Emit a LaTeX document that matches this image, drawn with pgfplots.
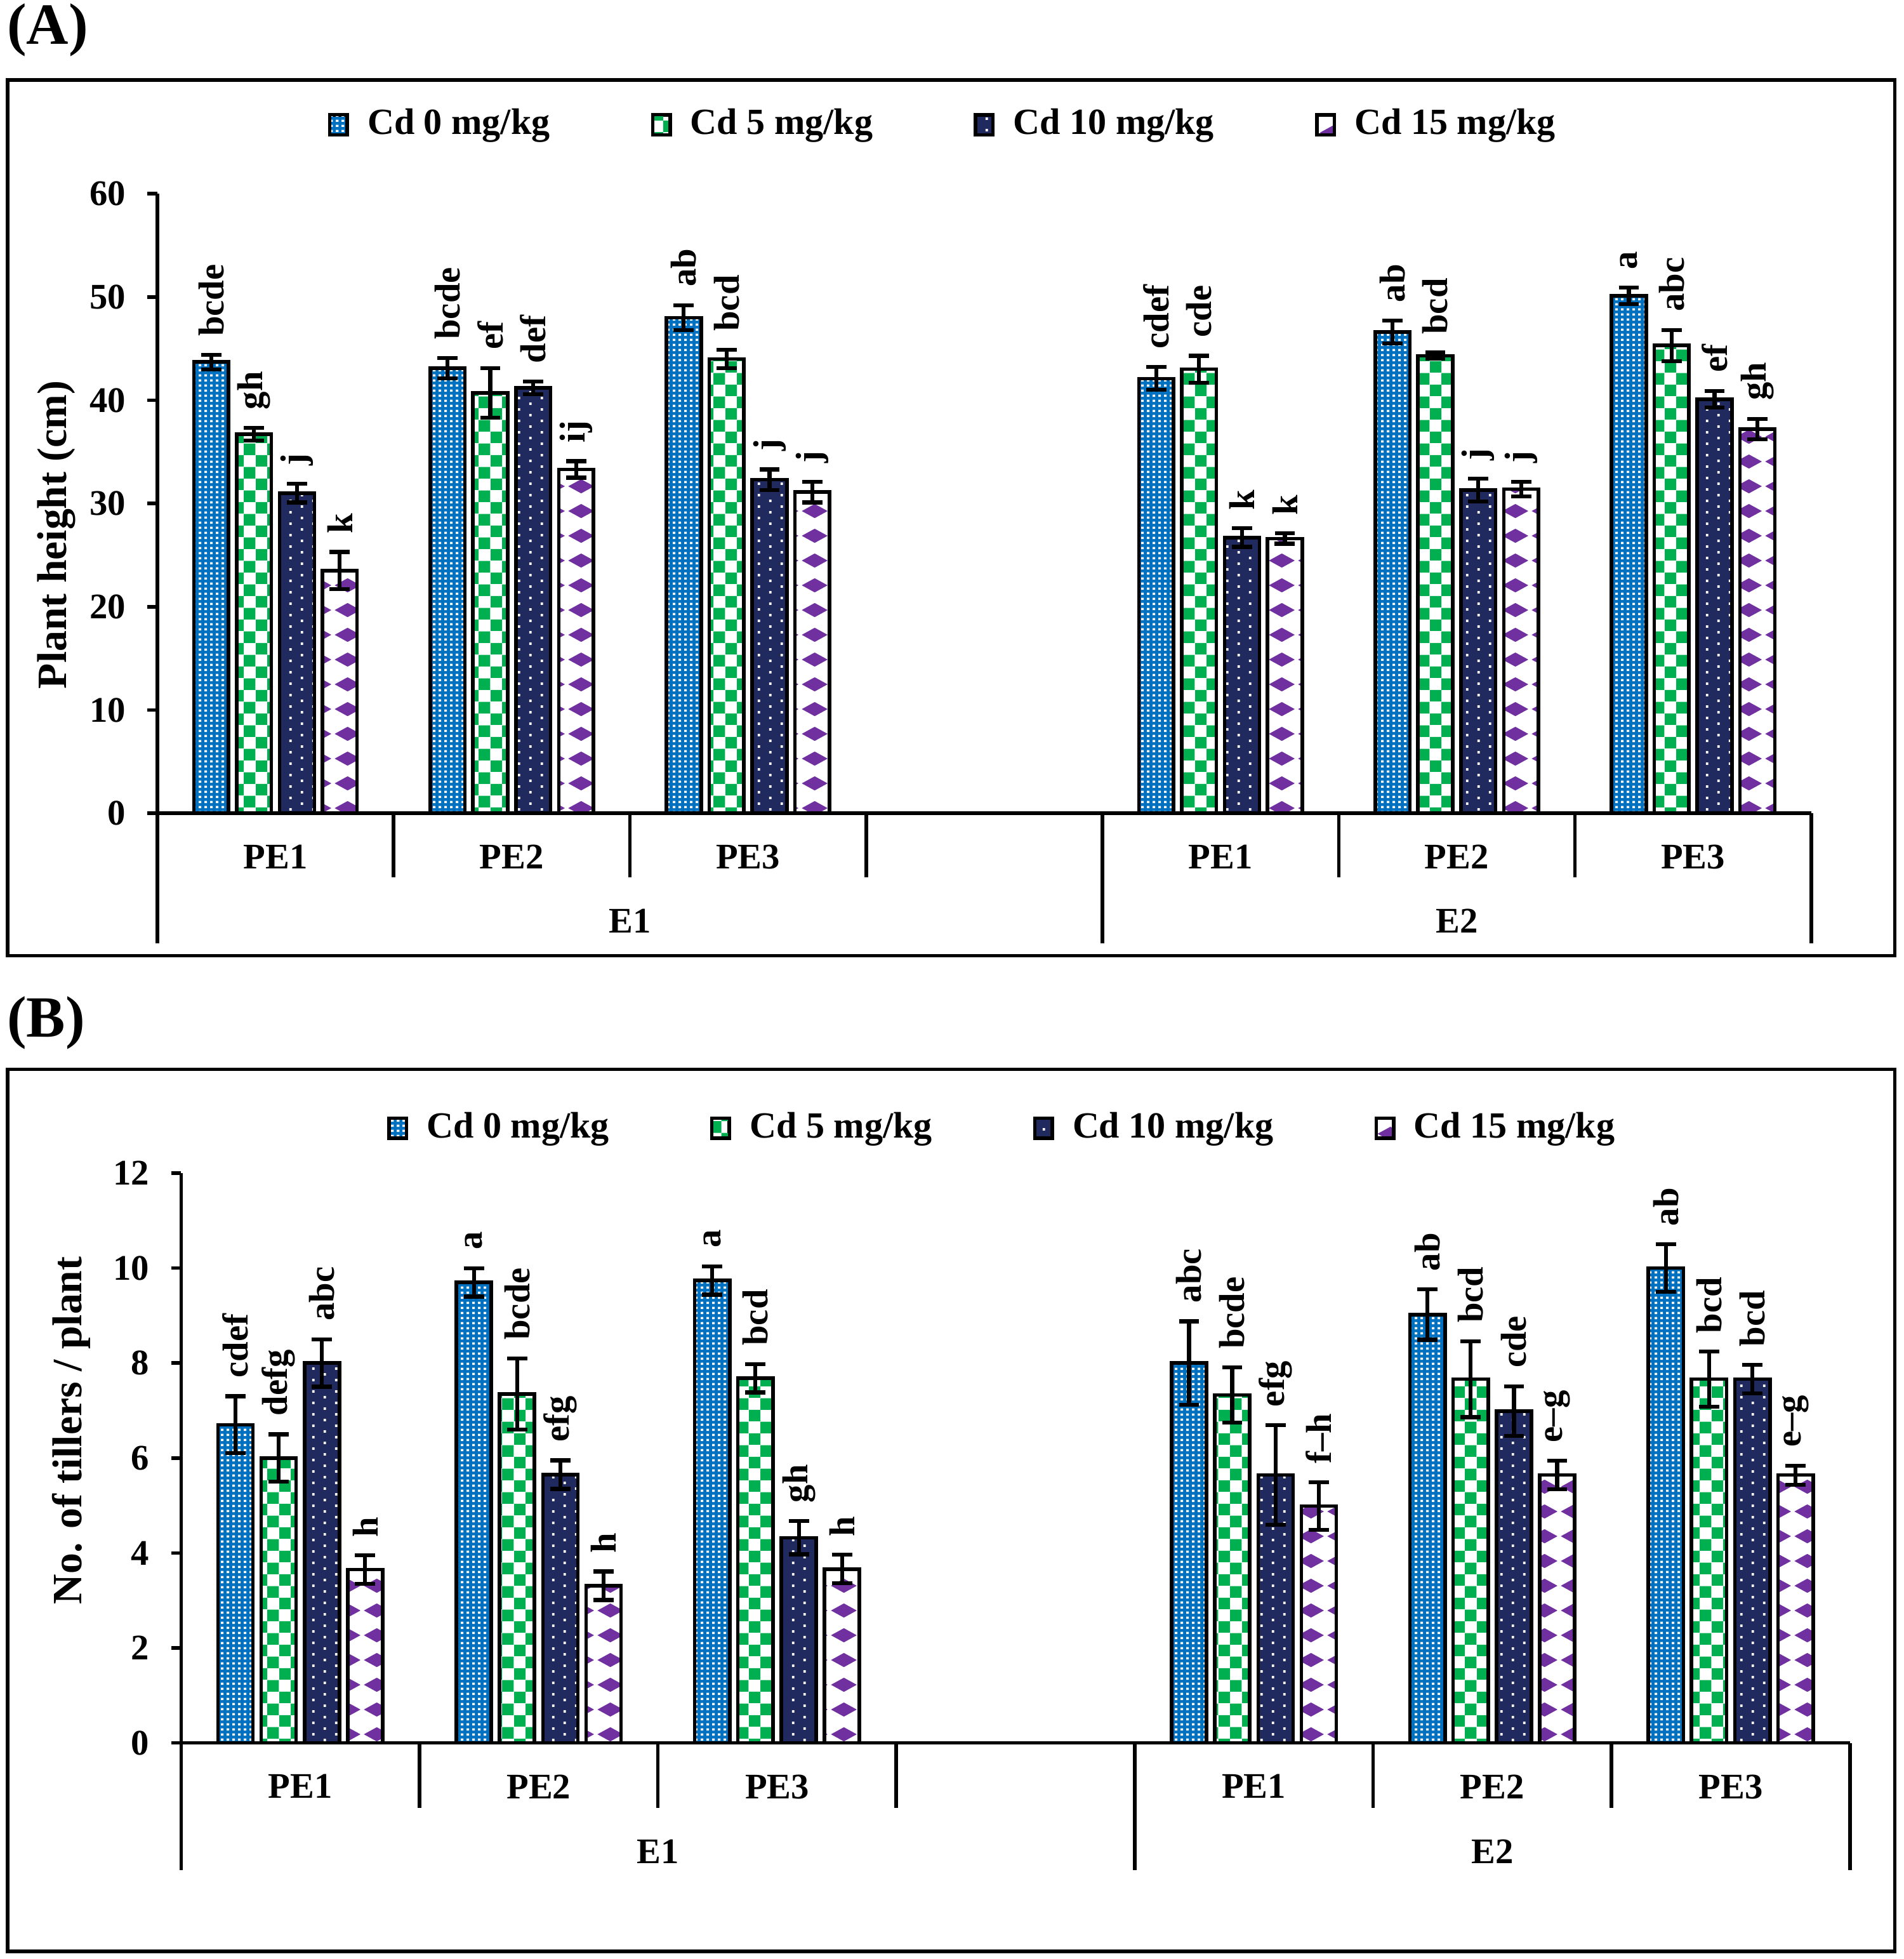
\documentclass[border=0pt]{standalone}
\usepackage{fontspec}
\setmainfont{Liberation Serif}
\usepackage{pgfplots}
\usepackage{pgfplotstable}
\pgfplotsset{compat=1.18}
\usetikzlibrary{patterns}

\definecolor{cdblue}{RGB}{0,112,192}
\definecolor{cdgreen}{RGB}{0,176,80}
\definecolor{cdnavy}{RGB}{32,42,94}
\definecolor{cdpurple}{RGB}{112,48,160}

% bar fills
\pgfdeclarepatternformonly{finedots}{\pgfqpoint{0pt}{0pt}}{\pgfqpoint{1.25pt}{1.1pt}}{\pgfqpoint{1.25pt}{1.1pt}}{%
  \pgfpathrectangle{\pgfqpoint{0.33pt}{0.3pt}}{\pgfqpoint{0.6pt}{0.5pt}}\pgfusepath{fill}}
\pgfdeclarepatternformonly{sparsedots}{\pgfqpoint{0pt}{0pt}}{\pgfqpoint{5.2pt}{2.6pt}}{\pgfqpoint{5.2pt}{2.6pt}}{%
  \pgfpathrectangle{\pgfqpoint{1pt}{0.3pt}}{\pgfqpoint{0.55pt}{0.55pt}}%
  \pgfpathrectangle{\pgfqpoint{3.6pt}{1.6pt}}{\pgfqpoint{0.55pt}{0.55pt}}\pgfusepath{fill}}
\pgfdeclarepatternformonly{checks}{\pgfqpoint{0pt}{0pt}}{\pgfqpoint{5.3pt}{5.3pt}}{\pgfqpoint{5.3pt}{5.3pt}}{%
  \pgfpathrectangle{\pgfqpoint{0pt}{0pt}}{\pgfqpoint{2.65pt}{2.65pt}}%
  \pgfpathrectangle{\pgfqpoint{2.65pt}{2.65pt}}{\pgfqpoint{2.65pt}{2.65pt}}\pgfusepath{fill}}
\newcommand\pdiam[2]{%
  \pgfpathmoveto{\pgfpointadd{\pgfqpoint{#1}{#2}}{\pgfqpoint{-2.9pt}{0pt}}}%
  \pgfpathlineto{\pgfpointadd{\pgfqpoint{#1}{#2}}{\pgfqpoint{0pt}{1.6pt}}}%
  \pgfpathlineto{\pgfpointadd{\pgfqpoint{#1}{#2}}{\pgfqpoint{2.9pt}{0pt}}}%
  \pgfpathlineto{\pgfpointadd{\pgfqpoint{#1}{#2}}{\pgfqpoint{0pt}{-1.6pt}}}%
  \pgfpathclose}
\pgfdeclarepatternformonly{diamonds}{\pgfqpoint{0pt}{0pt}}{\pgfqpoint{6.6pt}{5.7pt}}{\pgfqpoint{6.6pt}{5.7pt}}{%
  \pdiam{0pt}{0pt}\pdiam{6.6pt}{0pt}\pdiam{0pt}{5.7pt}\pdiam{6.6pt}{5.7pt}\pgfusepath{fill}}

\tikzset{
  s0/.style={preaction={fill=cdblue}, pattern=finedots, pattern color=white, draw=black},
  s5/.style={preaction={fill=white}, pattern=checks, pattern color=cdgreen, draw=black},
  s10/.style={preaction={fill=cdnavy}, pattern=sparsedots, pattern color=white, draw=black},
  s15/.style={preaction={fill=white}, pattern=diamonds, pattern color=cdpurple, draw=black},
}

\newcommand\tickfont{\fontsize{8.2}{9}\selectfont\bfseries}

\pgfplotsset{
  cdpanel/.style={
    scale only axis, anchor=south west, clip=false,
    xmin=0, xmax=7, ymin=0,
    axis x line*=bottom, axis y line*=left,
    axis line style={-, line width=0.8pt, black},
    xtick={0.5,1.5,2.5,4.5,5.5,6.5},
    xticklabels={PE1,PE2,PE3,PE1,PE2,PE3},
    xtick style={draw=none},
    ytick style={line width=0.8pt, black},
    tick align=outside, major tick length=0.08cm,
    tick label style={font=\tickfont},
    /pgf/number format/assume math mode=true,
    yticklabel style={xshift=-0.05cm},
    xticklabel style={yshift=-0.05cm},
    legend columns=4,
    legend cell align=left,
    legend style={draw=none, fill=none, anchor=center,
      font=\fontsize{8.4}{10}\selectfont\bfseries,
      /tikz/every even column/.append style={column sep=0.74cm},
      /tikz/every odd column/.append style={column sep=0.08cm}},
  },
  leg/.style={legend image code/.code={\draw[#1, line width=0.7pt] (0cm,-0.08cm) rectangle (0.14cm,0.08cm);}},
  cdbar/.style={ybar, bar width=0.147, line width=0.8pt},
  cderr/.style={draw=none, mark=none, forget plot,
    error bars/.cd, y dir=both, y explicit, error mark=-,
    error bar style={draw=black, line width=0.9pt},
    error mark options={draw=black, line width=0.9pt, mark size=2.3pt, rotate=90}},
  cdlab/.style={draw=none, mark=none, forget plot, nodes near coords,
    point meta=explicit symbolic,
    every node near coord/.append style={black, font=\tickfont,
      rotate=90, anchor=west, inner xsep=4pt, inner ysep=0.5pt}},
}

\newcommand\bars[3]{\addplot[cdbar, #2, leg=#2, bar shift=#3] table[x=x, y=y] {#1};}
\newcommand\errs[2]{\addplot[cderr] table[x expr=\thisrow{x}#2, y=y, y error=e] {#1};}
\newcommand\labs[2]{\addplot[cdlab] table[x expr=\thisrow{x}#2, y expr=\thisrow{y}+\thisrow{e}, meta=lab] {#1};}

% (A) plant height, cm
\pgfplotstableread{
x   y    e   lab
0.5 43.7 0.7 bcde
1.5 43.1 1.0 bcde
2.5 48.0 1.2 ab
4.5 42.1 1.1 cdef
5.5 46.6 1.1 ab
6.5 50.1 0.8 a
}\Azero
\pgfplotstableread{
x   y    e   lab
0.5 36.7 0.6 gh
1.5 40.7 2.4 ef
2.5 44.0 0.9 bcd
4.5 43.0 1.3 cde
5.5 44.3 0.3 bcd
6.5 45.3 1.5 abc
}\Afive
\pgfplotstableread{
x   y    e   lab
0.5 31.0 0.9 j
1.5 41.2 0.6 def
2.5 32.3 1.0 j
4.5 26.7 0.9 k
5.5 31.3 1.1 j
6.5 40.1 0.8 ef
}\Aten
\pgfplotstableread{
x   y    e   lab
0.5 23.5 1.8 k
1.5 33.3 0.8 ij
2.5 31.1 1.0 j
4.5 26.6 0.5 k
5.5 31.4 0.7 j
6.5 37.2 1.0 gh
}\Afifteen

% (B) tillers per plant
\pgfplotstableread{
x   y    e    lab
0.5 6.70 0.60 cdef
1.5 9.70 0.30 a
2.5 9.74 0.30 a
4.5 8.00 0.88 abc
5.5 9.02 0.53 ab
6.5 10.00 0.50 ab
}\Bzero
\pgfplotstableread{
x   y    e    lab
0.5 6.00 0.50 defg
1.5 7.35 0.75 bcde
2.5 7.68 0.30 bcd
4.5 7.33 0.58 bcde
5.5 7.66 0.80 bcd
6.5 7.66 0.58 bcd
}\Bfive
\pgfplotstableread{
x   y    e    lab
0.5 8.00 0.50 abc
1.5 5.65 0.30 efg
2.5 4.32 0.35 gh
4.5 5.64 1.05 efg
5.5 6.99 0.52 cde
6.5 7.66 0.30 bcd
}\Bten
\pgfplotstableread{
x   y    e    lab
0.5 3.65 0.30 h
1.5 3.31 0.30 h
2.5 3.66 0.30 h
4.5 4.99 0.50 f--h
5.5 5.64 0.30 e--g
6.5 5.64 0.20 e--g
}\Bfifteen

\begin{document}
\begin{tikzpicture}
\useasboundingbox (0,0) rectangle (15.24,15.68);

% ---- panel A ----
\begin{axis}[cdpanel, at={(1.26cm,9.17cm)}, width=13.24cm, height=4.96cm,
  ymax=60, ytick={0,10,...,60},
  legend style={at={(0.477,1.111)}}]
\bars{\Azero}{s0}{-0.272}
\addlegendentry{Cd 0 mg/kg}
\bars{\Afive}{s5}{-0.091}
\addlegendentry{Cd 5 mg/kg}
\bars{\Aten}{s10}{0.091}
\addlegendentry{Cd 10 mg/kg}
\bars{\Afifteen}{s15}{0.272}
\addlegendentry{Cd 15 mg/kg}
\errs{\Azero}{-0.272}
\errs{\Afive}{-0.091}
\errs{\Aten}{+0.091}
\errs{\Afifteen}{+0.272}
\labs{\Azero}{-0.272}
\labs{\Afive}{-0.091}
\labs{\Aten}{+0.091}
\labs{\Afifteen}{+0.272}
\draw[line width=0.8pt] (axis cs:1,0) -- ++(0,-0.51cm);
\draw[line width=0.8pt] (axis cs:2,0) -- ++(0,-0.51cm);
\draw[line width=0.8pt] (axis cs:3,0) -- ++(0,-0.51cm);
\draw[line width=0.8pt] (axis cs:5,0) -- ++(0,-0.51cm);
\draw[line width=0.8pt] (axis cs:6,0) -- ++(0,-0.51cm);
\draw[line width=0.8pt] (axis cs:0,0) -- ++(0,-1.04cm);
\draw[line width=0.8pt] (axis cs:4,0) -- ++(0,-1.04cm);
\draw[line width=0.8pt] (axis cs:7,0) -- ++(0,-1.04cm);
\node[font=\tickfont, yshift=-0.86cm] at (axis cs:2,0) {E1};
\node[font=\tickfont, yshift=-0.86cm] at (axis cs:5.5,0) {E2};
\end{axis}

% ---- panel B ----
\begin{axis}[cdpanel, at={(1.45cm,1.73cm)}, width=13.36cm, height=4.56cm,
  ymax=12, ytick={0,2,...,12},
  legend style={at={(0.494,1.079)}}]
\bars{\Bzero}{s0}{-0.272}
\addlegendentry{Cd 0 mg/kg}
\bars{\Bfive}{s5}{-0.091}
\addlegendentry{Cd 5 mg/kg}
\bars{\Bten}{s10}{0.091}
\addlegendentry{Cd 10 mg/kg}
\bars{\Bfifteen}{s15}{0.272}
\addlegendentry{Cd 15 mg/kg}
\errs{\Bzero}{-0.272}
\errs{\Bfive}{-0.091}
\errs{\Bten}{+0.091}
\errs{\Bfifteen}{+0.272}
\labs{\Bzero}{-0.272}
\labs{\Bfive}{-0.091}
\labs{\Bten}{+0.091}
\labs{\Bfifteen}{+0.272}
\draw[line width=0.8pt] (axis cs:1,0) -- ++(0,-0.52cm);
\draw[line width=0.8pt] (axis cs:2,0) -- ++(0,-0.52cm);
\draw[line width=0.8pt] (axis cs:3,0) -- ++(0,-0.52cm);
\draw[line width=0.8pt] (axis cs:5,0) -- ++(0,-0.52cm);
\draw[line width=0.8pt] (axis cs:6,0) -- ++(0,-0.52cm);
\draw[line width=0.8pt] (axis cs:0,0) -- ++(0,-1.02cm);
\draw[line width=0.8pt] (axis cs:4,0) -- ++(0,-1.02cm);
\draw[line width=0.8pt] (axis cs:7,0) -- ++(0,-1.02cm);
\node[font=\tickfont, yshift=-0.87cm] at (axis cs:2,0) {E1};
\node[font=\tickfont, yshift=-0.87cm] at (axis cs:5.5,0) {E2};
\end{axis}

% frames, panel letters, axis titles
\draw[line width=0.8pt] (0.06,8.03) rectangle (15.17,15.04);
\draw[line width=0.8pt] (0.06,0.06) rectangle (15.17,7.12);
\node[anchor=north west, inner sep=0pt, font=\fontsize{13.3}{15}\selectfont\bfseries] at (0.05,15.66) {(A)};
\node[anchor=north west, inner sep=0pt, font=\fontsize{13.3}{15}\selectfont\bfseries] at (0.05,7.71) {(B)};
\node[rotate=90, font=\fontsize{9.5}{11}\selectfont\bfseries] at (0.45,11.40) {Plant height (cm)};
\node[rotate=90, font=\fontsize{9.5}{11}\selectfont\bfseries] at (0.57,4.23) {No. of tillers / plant};
\end{tikzpicture}
\end{document}
